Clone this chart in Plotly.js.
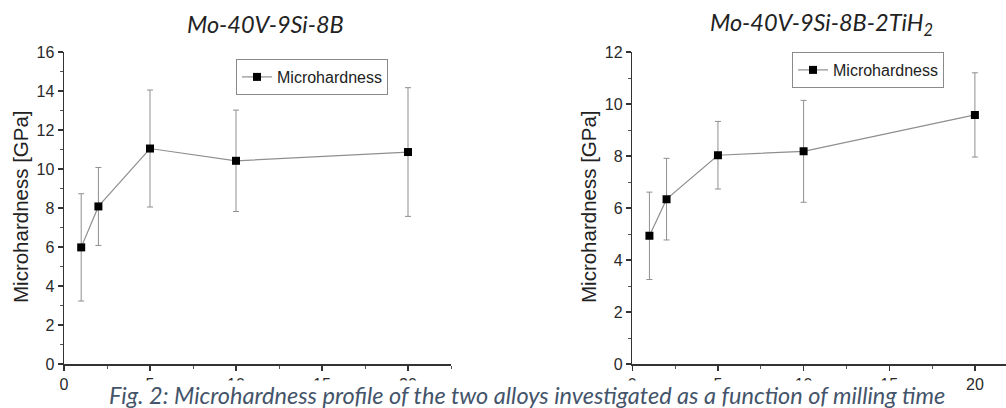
<!DOCTYPE html>
<html>
<head>
<meta charset="utf-8">
<script src="https://cdn.plot.ly/plotly-3.0.1.min.js"></script>
<style>html,body{margin:0;padding:0;background:#fff;}#chart{width:1006px;height:408px;}</style>
</head>
<body>
<div id="chart"></div>
<script>
// Milling time (h)
const millingTime = [1, 2, 5, 10, 20];
// Mo-40V-9Si-8B
const hardnessA = [5.98, 8.08, 11.05, 10.42, 10.87];
const errA = [2.75, 2.0, 3.0, 2.6, 3.3];
// Mo-40V-9Si-8B-2TiH2
const hardnessB = [4.93, 6.34, 8.03, 8.18, 9.58];
const errB = [1.68, 1.57, 1.3, 1.96, 1.62];

const titleA = 'Mo-40V-9Si-8B';
const titleB = 'Mo-40V-9Si-8B-2TiH<sub>2</sub>';
const seriesName = 'Microhardness';
const yTitle = 'Microhardness [GPa]';
const caption = 'Fig. 2: Microhardness profile of the two alloys investigated as a function of milling time';

const lineStyle = {color: '#8f8f8f', width: 1.2};
const markerStyle = {symbol: 'square', size: 8, color: '#000'};
const errStyle = {color: '#8f8f8f', thickness: 1, width: 3};

const traces = [
  {x: millingTime, y: hardnessA, name: seriesName, mode: 'lines+markers', line: lineStyle, marker: markerStyle,
   error_y: Object.assign({type: 'data', array: errA, visible: true}, errStyle), xaxis: 'x', yaxis: 'y', legend: 'legend'},
  {x: millingTime, y: hardnessB, name: seriesName, mode: 'lines+markers', line: lineStyle, marker: markerStyle,
   error_y: Object.assign({type: 'data', array: errB, visible: true}, errStyle), xaxis: 'x2', yaxis: 'y2', legend: 'legend2'}
];

const tickFont = {family: 'Arial, Liberation Sans, sans-serif', size: 16, color: '#2a2a2a'};
const axBase = {
  showline: true, linecolor: '#333', linewidth: 1.5, ticks: 'outside', ticklen: 5, tickwidth: 1.5, tickcolor: '#333',
  showgrid: false, zeroline: false, tickfont: tickFont, fixedrange: true,
  minor: {ticks: 'outside', ticklen: 3, tickwidth: 1, tickcolor: '#555', showgrid: false}
};
function ax(extra) { return Object.assign({}, JSON.parse(JSON.stringify(axBase)), extra); }

const yBottom = (408 - 364) / 408, yTop = (408 - 52) / 408;
const legendStyle = {bgcolor: 'rgba(255,255,255,0)', bordercolor: '#8a8a8a', borderwidth: 1,
  font: {family: 'Arial, Liberation Sans, sans-serif', size: 16, color: '#222'}, itemwidth: 30, tracegroupgap: 0};

const titleFont = {family: 'Lato, Open Sans, sans-serif', size: 23.5, color: '#222', style: 'italic'};
const yTitleFont = {family: 'Arial, Liberation Sans, sans-serif', size: 20.5, color: '#222'};

const layout = {
  width: 1006, height: 408,
  margin: {l: 0, r: 0, t: 0, b: 0},
  paper_bgcolor: '#fff', plot_bgcolor: '#fff',
  showlegend: true,
  xaxis: ax({domain: [64 / 1006, 451 / 1006], range: [0, 22.5], dtick: 5, tick0: 0, anchor: 'y', minor: Object.assign({}, axBase.minor, {dtick: 2.5})}),
  yaxis: ax({domain: [yBottom, yTop], range: [0, 16], dtick: 2, tick0: 0, anchor: 'x', minor: Object.assign({}, axBase.minor, {dtick: 1})}),
  xaxis2: ax({domain: [632.3 / 1006, 1], range: [0, (1006 - 632.3) / 17.13], dtick: 5, tick0: 0, anchor: 'y2', minor: Object.assign({}, axBase.minor, {dtick: 2.5})}),
  yaxis2: ax({domain: [yBottom, yTop], range: [0, 12], dtick: 2, tick0: 0, anchor: 'x2', minor: Object.assign({}, axBase.minor, {dtick: 1})}),
  legend: Object.assign({x: 236 / 1006, y: (408 - 59) / 408, xanchor: 'left', yanchor: 'top'}, legendStyle),
  legend2: Object.assign({x: 792 / 1006, y: (408 - 52) / 408, xanchor: 'left', yanchor: 'top'}, legendStyle),
  annotations: [
    {text: titleA, xref: 'paper', yref: 'paper', x: 265 / 1006, y: (408 - 24) / 408, xanchor: 'center', yanchor: 'middle', showarrow: false, font: titleFont},
    {text: titleB, xref: 'paper', yref: 'paper', x: 821 / 1006, y: (408 - 24) / 408, xanchor: 'center', yanchor: 'middle', showarrow: false, font: titleFont},
    {text: yTitle, xref: 'paper', yref: 'paper', x: 20 / 1006, y: (408 - 207) / 408, xanchor: 'center', yanchor: 'middle', textangle: -90, showarrow: false, font: yTitleFont},
    {text: yTitle, xref: 'paper', yref: 'paper', x: 588 / 1006, y: (408 - 207) / 408, xanchor: 'center', yanchor: 'middle', textangle: -90, showarrow: false, font: yTitleFont},
    {text: caption, xref: 'paper', yref: 'paper', x: 527 / 1006, y: (408 - 395) / 408, xanchor: 'center', yanchor: 'middle', showarrow: false,
     bgcolor: '#fff', borderpad: 0,
     font: {family: 'Lato, Open Sans, sans-serif', size: 23.5, color: '#44546a', style: 'italic'}}
  ]
};

Plotly.newPlot('chart', traces, layout, {displayModeBar: false, staticPlot: true});
</script>
</body>
</html>
